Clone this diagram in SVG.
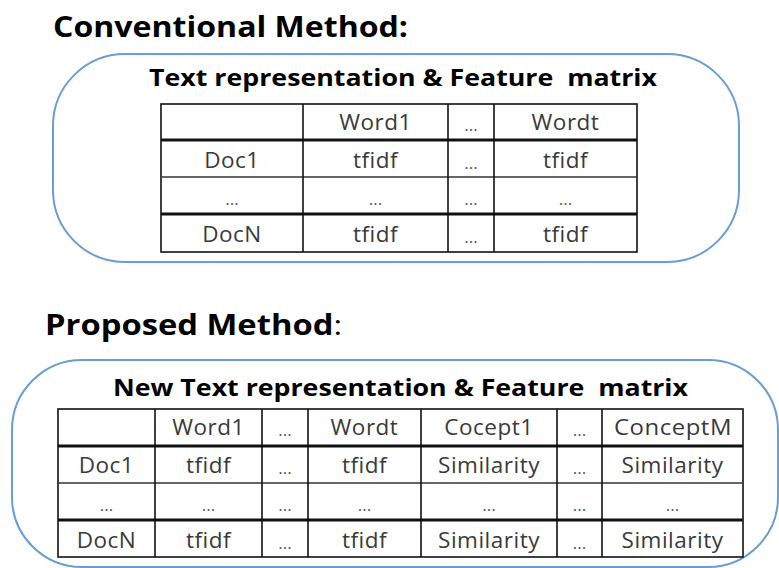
<svg xmlns="http://www.w3.org/2000/svg" width="779" height="568" viewBox="0 0 779 568">
  <style>
    .heading { font-family: "Open Sans", "Noto Sans", "Liberation Sans", sans-serif; font-weight: bold; fill: #000; }
    .caption { font-family: "Open Sans", "Noto Sans", "Liberation Sans", sans-serif; font-weight: bold; font-size: 24px; fill: #000; white-space: pre; }
    .cell { font-family: "Open Sans", "Noto Sans", "Liberation Sans", sans-serif; font-size: 22.5px; letter-spacing: 0.5px; fill: #3a3a3a; text-anchor: middle; }
    .dots { font-family: "Open Sans", "Noto Sans", "Liberation Sans", sans-serif; font-size: 17px; fill: #555; text-anchor: middle; }
    .panel { fill: #fff; stroke: #6b9dd0; stroke-width: 2; }
    .grid { stroke: #111; stroke-width: 1.6; fill: none; }
    .thick { stroke: #111; stroke-width: 3.2; }
    .thin { stroke: #333; stroke-width: 1.4; }
  </style>
  <rect width="779" height="568" fill="#fff"/>

  <!-- Conventional method -->
  <g id="conventional-heading">
    <text class="heading" x="53" y="37" font-size="28" textLength="355" lengthAdjust="spacingAndGlyphs">Conventional Method:</text>
  </g>
  <g id="conventional-panel">
    <rect class="panel" x="53" y="54" width="686" height="208" rx="72" ry="72"/>
    <text class="caption" x="149" y="86" xml:space="preserve" textLength="508" lengthAdjust="spacingAndGlyphs">Text representation &amp; Feature  matrix</text>
  </g>
  <g id="conventional-table">
    <rect class="grid" x="161" y="104" width="476" height="148"/>
    <line class="thick" x1="161" y1="140" x2="637" y2="140"/>
    <line class="thin" x1="161" y1="177" x2="637" y2="177"/>
    <line class="thick" x1="161" y1="214" x2="637" y2="214"/>
    <line class="grid" x1="303" y1="104" x2="303" y2="252"/>
    <line class="grid" x1="448" y1="104" x2="448" y2="252"/>
    <line class="grid" x1="494" y1="104" x2="494" y2="252"/>
    <text class="cell" x="375.5" y="130">Word1</text>
    <text class="dots" x="471" y="131">...</text>
    <text class="cell" x="565.5" y="130">Wordt</text>
    <text class="cell" x="232" y="168">Doc1</text>
    <text class="cell" x="375.5" y="168">tfidf</text>
    <text class="dots" x="471" y="169">...</text>
    <text class="cell" x="565.5" y="168">tfidf</text>
    <text class="dots" x="232" y="205">...</text>
    <text class="dots" x="375.5" y="205">...</text>
    <text class="dots" x="471" y="205">...</text>
    <text class="dots" x="565.5" y="205">...</text>
    <text class="cell" x="232" y="242">DocN</text>
    <text class="cell" x="375.5" y="242">tfidf</text>
    <text class="dots" x="471" y="243">...</text>
    <text class="cell" x="565.5" y="242">tfidf</text>
  </g>

  <!-- Proposed method -->
  <g id="proposed-heading">
    <text class="heading" x="45" y="335" font-size="28" textLength="297" lengthAdjust="spacingAndGlyphs">Proposed Method<tspan font-weight="normal">:</tspan></text>
  </g>
  <g id="proposed-panel">
    <rect class="panel" x="12" y="360" width="766" height="207" rx="70" ry="70"/>
    <text class="caption" x="113" y="396" xml:space="preserve" textLength="575" lengthAdjust="spacingAndGlyphs">New Text representation &amp; Feature  matrix</text>
  </g>
  <g id="proposed-table">
    <rect class="grid" x="58" y="409" width="685" height="148"/>
    <line class="thick" x1="58" y1="446" x2="743" y2="446"/>
    <line class="thin" x1="58" y1="483" x2="743" y2="483"/>
    <line class="thick" x1="58" y1="520" x2="743" y2="520"/>
    <line class="grid" x1="155" y1="409" x2="155" y2="557"/>
    <line class="grid" x1="262" y1="409" x2="262" y2="557"/>
    <line class="grid" x1="308" y1="409" x2="308" y2="557"/>
    <line class="grid" x1="421" y1="409" x2="421" y2="557"/>
    <line class="grid" x1="557" y1="409" x2="557" y2="557"/>
    <line class="grid" x1="602" y1="409" x2="602" y2="557"/>
    <text class="cell" x="208.5" y="435">Word1</text>
    <text class="dots" x="285" y="436">...</text>
    <text class="cell" x="364.5" y="435">Wordt</text>
    <text class="cell" x="489" y="435">Cocept1</text>
    <text class="dots" x="579.5" y="436">...</text>
    <text class="cell" x="673" y="435" textLength="118" lengthAdjust="spacingAndGlyphs">ConceptM</text>
    <text class="cell" x="106.5" y="473">Doc1</text>
    <text class="cell" x="208.5" y="473">tfidf</text>
    <text class="dots" x="285" y="474">...</text>
    <text class="cell" x="364.5" y="473">tfidf</text>
    <text class="cell" x="489" y="473">Similarity</text>
    <text class="dots" x="579.5" y="474">...</text>
    <text class="cell" x="672.5" y="473">Similarity</text>
    <text class="dots" x="106.5" y="511">...</text>
    <text class="dots" x="208.5" y="511">...</text>
    <text class="dots" x="285" y="511">...</text>
    <text class="dots" x="364.5" y="511">...</text>
    <text class="dots" x="489" y="511">...</text>
    <text class="dots" x="579.5" y="511">...</text>
    <text class="dots" x="672.5" y="511">...</text>
    <text class="cell" x="106.5" y="548">DocN</text>
    <text class="cell" x="208.5" y="548">tfidf</text>
    <text class="dots" x="285" y="549">...</text>
    <text class="cell" x="364.5" y="548">tfidf</text>
    <text class="cell" x="489" y="548">Similarity</text>
    <text class="dots" x="579.5" y="549">...</text>
    <text class="cell" x="672.5" y="548">Similarity</text>
  </g>
</svg>
